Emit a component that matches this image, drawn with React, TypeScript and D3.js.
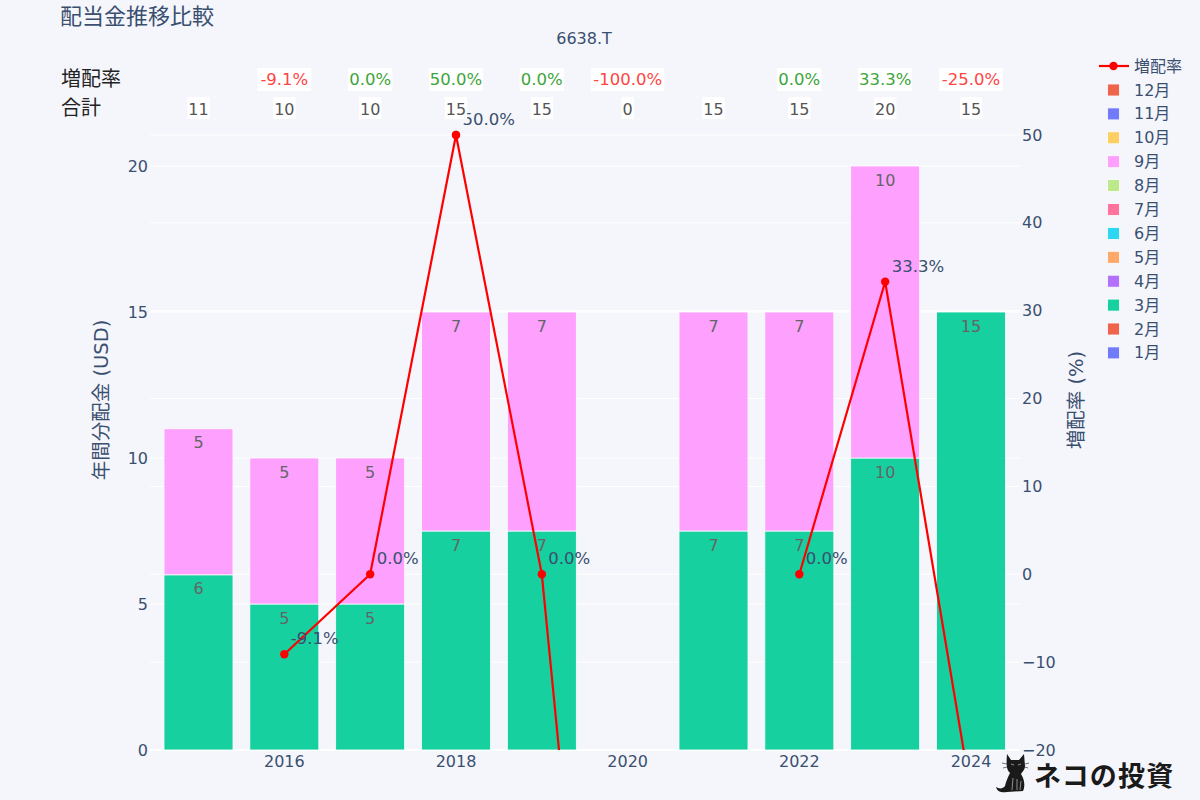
import React from "react";
import * as d3 from "d3";

const years = [2015, 2016, 2017, 2018, 2019, 2020, 2021, 2022, 2023, 2024];
const marchValues = [6, 5, 5, 7.5, 7.5, 0, 7.5, 7.5, 10, 15];
const septemberValues = [5, 5, 5, 7.5, 7.5, 0, 7.5, 7.5, 10, 0];
const marchLabels = ["6", "5", "5", "7", "7", "", "7", "7", "10", "15"];
const septemberLabels = ["5", "5", "5", "7", "7", "", "7", "7", "10", ""];
const totals = [11, 10, 10, 15, 15, 0, 15, 15, 20, 15];
const growthRates: (number | null)[] = [null, -9.1, 0, 50, 0, -100, null, 0, 33.3, -25];
const leftTicks = [0, 5, 10, 15, 20];
const rightTicks = [-20, -10, 0, 10, 20, 30, 40, 50];
const xTicks = [2016, 2018, 2020, 2022, 2024];
const legendMonths = ["12月", "11月", "10月", "9月", "8月", "7月", "6月", "5月", "4月", "3月", "2月", "1月"];
const legendColors = ["#EF553B", "#636EFA", "#FECB52", "#FF97FF", "#B6E880", "#FF6692", "#19D3F3", "#FFA15A", "#AB63FA", "#00CC96", "#EF553B", "#636EFA"];

const FONT = '"DejaVu Sans", "Noto Sans CJK JP", sans-serif';
const INK = "#3a4f70";
const BG = "#f5f6fb";

const x = d3.scaleLinear().domain([2015, 2024]).range([198.5, 971]);
const yL = d3.scaleLinear().domain([0, 20]).range([750, 166]);
const yR = d3.scaleLinear().domain([-20, 50]).range([750, 135]);
const BAR_W = 69;
const fmtPct = (v: number) => `${v.toFixed(1)}%`;
const rateColor = (v: number) => (v < 0 ? "#ff4444" : "#3ca53c");
const rateBoxW = (v: number) => fmtPct(v).length * 9.6 + 6;

export default function App() {
  const line = d3
    .line<number | null>()
    .defined((d) => d !== null)
    .x((_, i) => x(years[i]))
    .y((d) => yR(d as number));
  return (
    <svg width={1200} height={800} style={{ position: "absolute", left: 0, top: 0, display: "block" }} fontFamily={FONT}>
      <defs>
        <clipPath id="plotClip">
          <rect x={150} y={128} width={870} height={622} />
        </clipPath>
      </defs>
      <rect width={1200} height={800} fill={BG} />

      <text x={60} y={24} fontSize={22} fill={INK}>配当金推移比較</text>
      <text x={584} y={44} fontSize={16} fill={INK} textAnchor="middle">6638.T</text>

      {/* grid */}
      {rightTicks.map((t) => (
        <line key={`gr${t}`} x1={150} x2={1020} y1={yR(t)} y2={yR(t)} stroke="#fff" strokeWidth={1} />
      ))}
      {leftTicks.map((t) => (
        <line key={`gl${t}`} x1={150} x2={1020} y1={yL(t)} y2={yL(t)} stroke="#fff" strokeWidth={t === 0 ? 2 : 1} />
      ))}

      {/* bars */}
      {years.map((yr, i) => (
        <g key={yr} opacity={0.9}>
          {marchValues[i] > 0 && (
            <rect x={x(yr) - BAR_W / 2} width={BAR_W} y={yL(marchValues[i])} height={yL(0) - yL(marchValues[i])} fill="#00CC96" stroke="#fff" strokeWidth={0.8} />
          )}
          {septemberValues[i] > 0 && (
            <rect x={x(yr) - BAR_W / 2} width={BAR_W} y={yL(marchValues[i] + septemberValues[i])} height={yL(0) - yL(septemberValues[i])} fill="#FF97FF" stroke="#fff" strokeWidth={0.8} />
          )}
          <text x={x(yr)} y={yL(marchValues[i]) + 19.5} textAnchor="middle" fontSize={16} fill="#555">{marchLabels[i]}</text>
          <text x={x(yr)} y={yL(marchValues[i] + septemberValues[i]) + 19.5} textAnchor="middle" fontSize={16} fill="#555">{septemberLabels[i]}</text>
        </g>
      ))}

      {/* growth line */}
      <g clipPath="url(#plotClip)">
        <path d={line(growthRates) ?? ""} fill="none" stroke="#ff0000" strokeWidth={2.2} />
        {years.map((yr, i) =>
          growthRates[i] === null ? null : (
            <g key={yr}>
              <circle cx={x(yr)} cy={yR(growthRates[i] as number)} r={4.2} fill="#ff0000" />
              <text x={x(yr) + 6.5} y={yR(growthRates[i] as number) - 10} fontSize={16.5} fill={INK}>{fmtPct(growthRates[i] as number)}</text>
            </g>
          )
        )}
      </g>
      <circle cx={x(2018)} cy={yR(50)} r={4.2} fill="#ff0000" />
      <text x={x(2018) + 6.5} y={yR(50) - 10} fontSize={16.5} fill={INK}>{fmtPct(50)}</text>

      {/* axes */}
      {leftTicks.map((t) => (
        <text key={t} x={148} y={yL(t) + 5.5} textAnchor="end" fontSize={16} fill={INK}>{t}</text>
      ))}
      {rightTicks.map((t) => (
        <text key={t} x={1022} y={yR(t) + 5.5} fontSize={16} fill={INK}>{d3.format("d")(t).replace("-", "\u2212")}</text>
      ))}
      {xTicks.map((t) => (
        <text key={t} x={x(t)} y={767} textAnchor="middle" fontSize={16} fill={INK}>{t}</text>
      ))}
      <text transform="translate(108,400) rotate(-90)" textAnchor="middle" fontSize={19.5} fill={INK}>年間分配金 (USD)</text>
      <text transform="translate(1083,400) rotate(-90)" textAnchor="middle" fontSize={19.5} fill={INK}>増配率 (%)</text>

      {/* table rows */}
      <text x={61} y={86} fontSize={20} fill="#222">増配率</text>
      <text x={61} y={115} fontSize={20} fill="#222">合計</text>
      {years.map((yr, i) => {
        const g = growthRates[i];
        const total = String(totals[i]);
        const tw = total.length * 10.2 + 2;
        return (
          <g key={yr}>
            {g !== null && (
              <g>
                <rect x={x(yr) - rateBoxW(g) / 2} y={68} width={rateBoxW(g)} height={23} fill="#fff" opacity={0.95} />
                <text x={x(yr)} y={85} textAnchor="middle" fontSize={16.5} fill={rateColor(g)}>{fmtPct(g)}</text>
              </g>
            )}
            <rect x={x(yr) - tw / 2} y={97} width={tw} height={22} fill="#fff" opacity={0.95} />
            <text x={x(yr)} y={115} textAnchor="middle" fontSize={16} fill="#555">{total}</text>
          </g>
        );
      })}

      {/* legend */}
      <line x1={1099} x2={1129} y1={66} y2={66} stroke="#ff0000" strokeWidth={2.2} />
      <circle cx={1113.5} cy={66} r={4.2} fill="#ff0000" />
      <text x={1134} y={72} fontSize={16} fill={INK}>増配率</text>
      {legendMonths.map((m, i) => {
        const cy = 90 + i * 23.9;
        return (
          <g key={m + i}>
            <rect x={1107.5} y={cy - 6} width={12} height={12} fill={legendColors[i]} opacity={0.9} stroke="#fff" strokeWidth={0.8} />
            <text x={1134} y={cy + 5.5} fontSize={16} fill={INK}>{m}</text>
          </g>
        );
      })}

      {/* logo */}
      <g fill="#1a1a1a">
        <path d="M1007 754 L1011 760 L1019 760 L1024 754 L1025 766 C1025 770 1022 772 1021 774 C1025 780 1025 787 1023 791 L1007 792 C1003 793 997 792 996 787 C999 789 1003 789 1005 786 C1006 781 1008 777 1010 773 C1007 770 1006 767 1007 754 Z" />
        <g stroke="#1a1a1a" strokeWidth={0.6} fill="none">
          <path d="M1007 764 L1002 763 M1007 767 L1003 768 M1025 764 L1029 763 M1025 767 L1028 768" />
        </g>
        <g stroke="#ddd" strokeWidth={0.6} fill="none">
          <path d="M1011 764 L1014 765 M1018 765 L1021 764 M1012 790 L1013 778 M1017 790 L1017 779 M1020 790 L1021 781" />
        </g>
        <text x={1034} y={786} fontSize={27} fontWeight={700} fontFamily='"Noto Sans CJK JP", sans-serif' letterSpacing={1.2}>ネコの投資</text>
      </g>
    </svg>
  );
}
